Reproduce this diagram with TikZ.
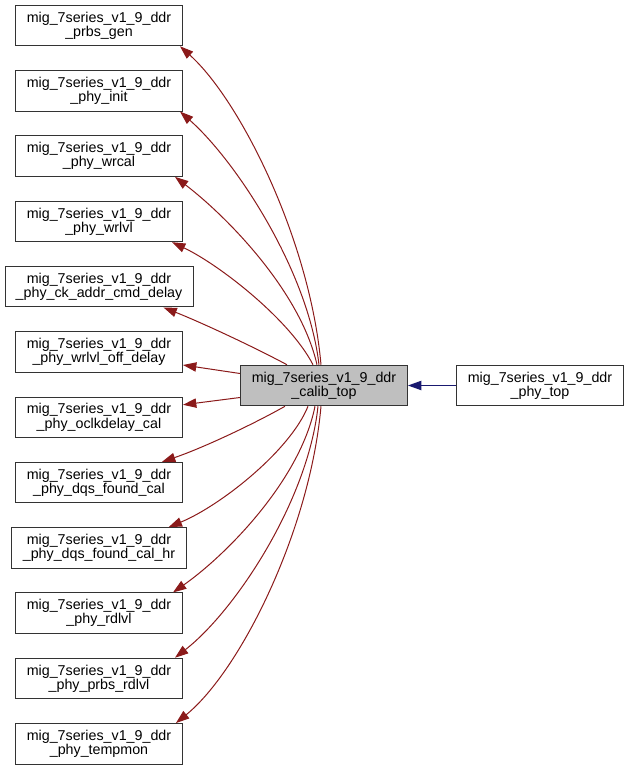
\documentclass[tikz,border=0pt]{standalone}
\usepackage{fontspec}
\setmainfont{Liberation Sans}
\usetikzlibrary{arrows.meta,positioning,calc}
\definecolor{CallRed}{RGB}{139,26,26}
\definecolor{CallBlue}{RGB}{25,25,112}
\definecolor{BoxGray}{RGB}{191,191,191}

\begin{document}
\begin{tikzpicture}[x=0.75pt,y=-0.75pt,
    box/.style={draw=black!80, fill=white, line width=0.75pt, align=center, inner sep=0pt,
      minimum width=125.25pt, minimum height=30.4pt, font={\fontsize{10.7}{10.6}\selectfont}},
    calledge/.style={draw=CallRed, line width=0.75pt, -{Triangle[length=10pt,width=7pt,fill=CallRed]}},
    useedge/.style={draw=CallBlue, line width=0.75pt, -{Triangle[length=10pt,width=7pt,fill=CallBlue]}}]
        \useasboundingbox (0,0) rectangle (628,771);
        \def\ygap{65.3}

        % callee column
        \foreach \i/\nm/\txt/\w in {
          1/prbsgen/{\_prbs\_gen}/125.25pt,
          2/phyinit/{\_phy\_init}/125.25pt,
          3/wrcal/{\_phy\_wrcal}/125.25pt,
          4/wrlvl/{\_phy\_wrlvl}/125.25pt,
          5/ckaddr/{\_phy\_ck\_addr\_cmd\_delay}/141pt,
          6/wrlvloff/{\_phy\_wrlvl\_off\_delay}/125.25pt,
          7/oclkdelay/{\_phy\_oclkdelay\_cal}/125.25pt,
          8/dqsfound/{\_phy\_dqs\_found\_cal}/125.25pt,
          9/dqsfoundhr/{\_phy\_dqs\_found\_cal\_hr}/130.7pt,
          10/rdlvl/{\_phy\_rdlvl}/125.25pt,
          11/prbsrdlvl/{\_phy\_prbs\_rdlvl}/125.25pt,
          12/tempmon/{\_phy\_tempmon}/125.25pt
        } {
          \node[box, minimum width=\w] (\nm) at (99,{25.5+\ygap*(\i-1)}) {mig\_7series\_v1\_9\_ddr\\\txt};
        }

        \node[box, fill=BoxGray] (calib) at (324,385.5) {mig\_7series\_v1\_9\_ddr\\\_calib\_top};
        \node[box, right=36pt of calib] (phytop) {mig\_7series\_v1\_9\_ddr\\\_phy\_top};

        % calls above
        \foreach \nm/\sx/\ax/\ay/\bx/\by/\tx in {
          prbsgen/-3/310/240/240/100/-3,
          phyinit/-5/308/270/235/160/-3,
          wrcal/-7/300/290/225/215/-8,
          wrlvl/-11/290/320/220/265/-11,
          ckaddr/-37/250/345/200/322/-30
        } {
          \draw[calledge] ($(calib.north)+(\sx,0)$) .. controls (\ax,\ay) and (\bx,\by) .. ($(\nm.south east)+(\tx,0)$);
        }
        % calls below
        \foreach \nm/\sx/\ax/\ay/\bx/\by/\tx in {
          tempmon/-3/310/531/240/671/-7,
          prbsrdlvl/-6/308/501/235/611/-8,
          rdlvl/-9/300/481/225/556/-10,
          dqsfoundhr/-16/290/451/220/506/-18,
          dqsfound/-39/250/426/200/449/-21
        } {
          \draw[calledge] ($(calib.south)+(\sx,0)$) .. controls (\ax,\ay) and (\bx,\by) .. ($(\nm.north east)+(\tx,0)$);
        }
        \draw[calledge] ($(calib.west)+(0,-12)$) -- ($(wrlvloff.east)+(0,13)$);
        \draw[calledge] ($(calib.west)+(0,12)$) -- ($(oclkdelay.east)+(0,-12.5)$);

        \draw[useedge] (phytop) -- (calib);
\end{tikzpicture}
\end{document}
